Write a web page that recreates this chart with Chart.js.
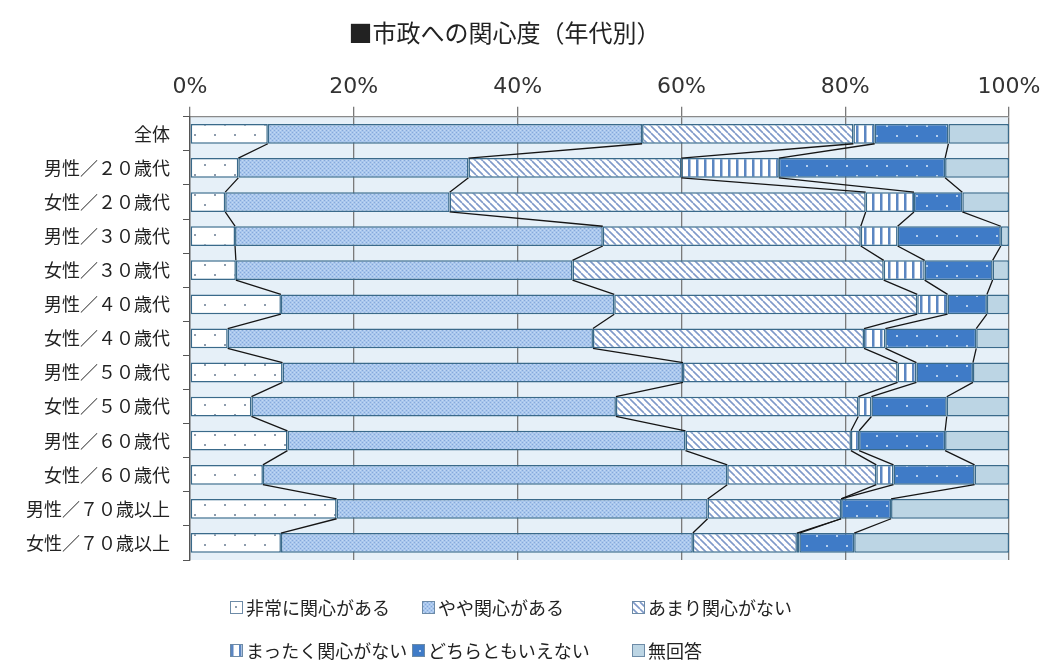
<!DOCTYPE html>
<html>
<head>
<meta charset="utf-8">
<script src="https://cdn.jsdelivr.net/npm/chart.js@4.4.1/dist/chart.umd.min.js"></script>
<style>
  html, body { margin: 0; padding: 0; background: #fff; }
  #wrap { position: relative; width: 1048px; height: 667px; }
  .lg { position: absolute; display: flex; align-items: center; font-family: "Noto Sans CJK JP", sans-serif; font-size: 18px; color: #222; white-space: nowrap; }
  .lg canvas { width: 11px; height: 11px; margin-right: 3px; border: 1px solid #6d8ba7; }
</style>
</head>
<body>
<div id="wrap">
  <canvas id="myChart" width="1048" height="667"></canvas>
</div>
<script>
const categories = ["全体", "男性／２０歳代", "女性／２０歳代", "男性／３０歳代", "女性／３０歳代", "男性／４０歳代", "女性／４０歳代",
  "男性／５０歳代", "女性／５０歳代", "男性／６０歳代", "女性／６０歳代", "男性／７０歳以上", "女性／７０歳以上"];
const seriesNames = ["非常に関心がある", "やや関心がある", "あまり関心がない", "まったく関心がない", "どちらともいえない", "無回答"];
const veryInterested     = [9.5, 5.9, 4.3, 5.5, 5.6, 11.1, 4.6, 11.3, 7.5, 11.9, 8.9, 17.9, 11.1];
const somewhatInterested = [45.7, 28.1, 27.4, 44.9, 41.1, 40.7, 44.6, 48.9, 44.5, 48.6, 56.7, 45.3, 50.3];
const notVeryInterested  = [25.8, 26.0, 50.8, 31.5, 38.0, 37.0, 33.1, 26.2, 29.6, 20.2, 18.2, 16.3, 12.7];
const notInterested      = [2.6, 11.9, 5.9, 4.5, 5.0, 3.7, 2.6, 2.3, 1.6, 1.0, 2.1, 0.0, 0.3];
const neither            = [9.0, 20.3, 5.9, 12.6, 8.3, 4.8, 11.1, 6.9, 9.2, 10.5, 9.9, 6.1, 6.7];
const noAnswer           = [7.4, 7.8, 5.7, 1.0, 2.0, 2.7, 4.0, 4.4, 7.6, 7.8, 4.2, 14.4, 18.9];
const xTicks = [0, 20, 40, 60, 80, 100];

const ctx = document.getElementById("myChart").getContext("2d");

// small tiles for the hatch / dot fills
function makeTile(w, h, draw) {
  const c = document.createElement("canvas");
  c.width = w; c.height = h;
  draw(c.getContext("2d"), w, h);
  return c;
}
const tiles = [
  makeTile(20, 20, (g) => {
    g.fillStyle = "#fff"; g.fillRect(0, 0, 20, 20);
    g.fillStyle = "#8d9cad"; g.fillRect(4, 4, 2, 2); g.fillRect(14, 14, 2, 2);
  }),
  makeTile(4, 4, (g) => {
    g.fillStyle = "#a9c7ed"; g.fillRect(0, 0, 4, 4);
    g.fillStyle = "#86a8da"; g.fillRect(0, 0, 1, 1); g.fillRect(2, 2, 1, 1);
    g.fillStyle = "#c3d8f3"; g.fillRect(2, 0, 1, 1); g.fillRect(0, 2, 1, 1);
  }),
  makeTile(7, 7, (g) => {
    g.fillStyle = "#fff"; g.fillRect(0, 0, 7, 7);
    g.strokeStyle = "#7f99c9"; g.lineWidth = 1.6;
    g.beginPath();
    for (let k = -1; k <= 1; k++) { g.moveTo(k * 7, 0); g.lineTo(k * 7 + 7, 7); }
    g.stroke();
  }),
  makeTile(8, 4, (g) => {
    g.fillStyle = "#fff"; g.fillRect(0, 0, 8, 4);
    g.fillStyle = "#5b86c2"; g.fillRect(0, 0, 2.5, 4);
  }),
  makeTile(20, 20, (g) => {
    g.fillStyle = "#3f7bc7"; g.fillRect(0, 0, 20, 20);
    g.fillStyle = "#b5cff0"; g.fillRect(6, 5, 2, 2); g.fillRect(16, 15, 2, 2);
  }),
  makeTile(4, 4, (g) => {
    g.fillStyle = "#bcd5e4"; g.fillRect(0, 0, 4, 4);
  }),
];
const fills = tiles.map((t) => ctx.createPattern(t, "repeat"));
const seriesData = [veryInterested, somewhatInterested, notVeryInterested, notInterested, neither, noAnswer];

const plotBg = {
  id: "plotBg",
  beforeDraw(chart) {
    const a = chart.chartArea, c = chart.ctx;
    c.save();
    c.fillStyle = "#fff";
    c.fillRect(0, 0, chart.width, chart.height);
    c.fillStyle = "#e6f0f8";
    c.fillRect(a.left, a.top, a.right - a.left, a.bottom - a.top);
    c.restore();
  },
};

// lines joining the segment ends of neighbouring bars
const seriesLines = {
  id: "seriesLines",
  afterDatasetsDraw(chart) {
    const c = chart.ctx;
    c.save();
    c.strokeStyle = "#151515";
    c.lineWidth = 1.3;
    for (let d = 0; d < chart.data.datasets.length - 1; d++) {
      const els = chart.getDatasetMeta(d).data;
      c.beginPath();
      for (let i = 0; i < els.length - 1; i++) {
        const a = els[i], b = els[i + 1];
        c.moveTo(a.x, a.y + a.height / 2);
        c.lineTo(b.x, b.y - b.height / 2);
      }
      c.stroke();
    }
    c.restore();
  },
};

const config = {
  type: "bar",
  data: {
    labels: categories,
    datasets: seriesNames.map((name, i) => ({
      label: name,
      data: seriesData[i],
      backgroundColor: fills[i],
      borderColor: "#3a6a8a",
      borderWidth: 1.5,
      borderSkipped: false,
      barPercentage: 0.58,
      categoryPercentage: 1,
    })),
  },
  options: {
    indexAxis: "y",
    responsive: false,
    animation: false,
    layout: { padding: { left: 0, right: 39, top: 0, bottom: 107 } },
    plugins: {
      legend: { display: false },
      tooltip: { enabled: false },
      title: {
        display: true,
        text: "■市政への関心度（年代別）",
        color: "#222",
        font: { family: "Noto Sans CJK JP", size: 24, weight: "normal" },
        padding: { top: 18, bottom: 8 },
      },
    },
    scales: {
      x: {
        position: "top",
        stacked: true,
        min: 0,
        max: 100,
        afterFit: (s) => { s.height = 62; },
        afterBuildTicks: (s) => { s.ticks = xTicks.map((v) => ({ value: v })); },
        ticks: {
          callback: (v) => v + "%",
          color: "#333",
          padding: 6,
          maxRotation: 0,
          font: { family: "DejaVu Sans", size: 22 },
        },
        grid: { color: "#7a7a7a", lineWidth: 1.3, tickLength: 10 },
        border: { color: "#8a8a8a", width: 1.3 },
      },
      y: {
        stacked: true,
        afterFit: (s) => { s.width = 190; },
        ticks: {
          color: "#222",
          padding: 13,
          font: { family: "Noto Sans CJK JP", size: 18 },
        },
        grid: { drawOnChartArea: false, color: "#555", tickLength: 7, offset: true },
        border: { color: "#555", width: 1.3 },
      },
    },
  },
  plugins: [plotBg, seriesLines],
};

const myChart = new Chart(ctx, config);

// legend laid out like the original (two rows, fixed spots)
const legendSpots = [[230, 607], [422, 607], [632, 607], [230, 650], [412, 650], [632, 650]];
const wrap = document.getElementById("wrap");
seriesNames.forEach((name, i) => {
  const item = document.createElement("div");
  item.className = "lg";
  item.style.left = legendSpots[i][0] + "px";
  item.style.top = (legendSpots[i][1] - 14) + "px";
  item.style.height = "28px";
  const sw = document.createElement("canvas");
  sw.width = 11; sw.height = 11;
  const g = sw.getContext("2d");
  g.fillStyle = g.createPattern(tiles[i], "repeat");
  g.fillRect(0, 0, 11, 11);
  item.appendChild(sw);
  const label = document.createElement("span");
  label.textContent = name;
  item.appendChild(label);
  wrap.appendChild(item);
});
</script>
</body>
</html>
